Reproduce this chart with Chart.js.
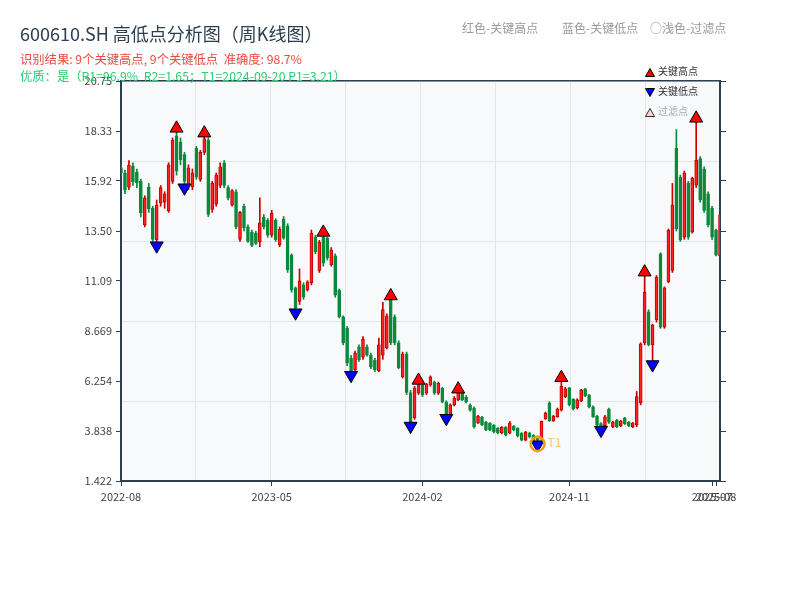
<!DOCTYPE html>
<html><head><meta charset="utf-8">
<script src="https://cdn.jsdelivr.net/npm/chart.js@4/dist/chart.umd.min.js"></script>
<style>
html,body{margin:0;padding:0;background:#fff;}
#wrap{position:relative;width:800px;height:600px;font-family:"Noto Sans CJK SC","Noto Sans",sans-serif;}
canvas{position:absolute;left:0;top:0;}
.t{position:absolute;white-space:nowrap;line-height:1;}
.lg{position:absolute;white-space:nowrap;line-height:1;font-size:10px;}
.lg svg{vertical-align:middle;margin-right:3px;}
</style></head><body>
<div id="wrap">
<canvas id="c" width="800" height="600"></canvas>
<div class="t" style="left:20px;top:24px;font-size:18px;color:#2c3e50">600610.SH 高低点分析图（周K线图）</div>
<div class="t" style="left:20px;top:53px;font-size:12.3px;color:#e74c3c">识别结果: 9个关键高点, 9个关键低点&nbsp;&nbsp;准确度: 98.7%</div>
<div class="t" style="left:20px;top:70px;font-size:12.3px;color:#2ecc71">优质：是（R1=96.9%&nbsp;&nbsp;R2=1.65；T1=2024-09-20 P1=3.21）</div>
<div class="t" style="left:462px;top:22px;font-size:12px;color:#999">红色-关键高点</div>
<div class="t" style="left:562px;top:22px;font-size:12px;color:#999">蓝色-关键低点</div>
<div class="t" style="left:650px;top:22px;font-size:12px;color:#999">○浅色-过滤点</div>
<div class="lg" style="left:645px;top:66px;color:#333"><svg width="10" height="9"><polygon points="5,0.5 9.5,8.5 0.5,8.5" fill="#ff0000" stroke="#000" stroke-width="1"/></svg>关键高点</div>
<div class="lg" style="left:645px;top:86px;color:#333"><svg width="10" height="9"><polygon points="0.5,0.5 9.5,0.5 5,8.5" fill="#0000ff" stroke="#000" stroke-width="1"/></svg>关键低点</div>
<div class="lg" style="left:645px;top:106px;color:#aaa"><svg width="10" height="9"><polygon points="5,0.5 9.5,8.5 0.5,8.5" fill="#ffd6d6" stroke="#000" stroke-width="0.8"/></svg>过滤点</div>
</div>
<script>
// ---- data ----
const openP  = [16.55,16.30,15.62,16.64,16.35,15.90,13.80,15.63,14.60,13.07,14.85,14.90,14.48,15.90,18.10,17.80,17.20,15.68,15.63,17.50,16.00,17.30,17.90,14.55,14.80,15.70,16.80,15.60,14.75,15.40,13.10,14.70,13.70,13.45,13.40,12.97,14.18,14.03,13.30,14.03,12.83,14.08,13.75,12.34,10.75,10.10,10.90,10.65,11.00,13.20,11.60,13.20,13.15,11.86,12.30,10.65,9.35,8.80,7.35,6.80,7.90,7.40,7.90,7.50,7.27,6.75,7.50,7.85,10.20,9.35,8.10,6.45,7.55,5.70,4.47,5.67,6.06,5.67,6.06,6.20,5.67,5.90,5.24,4.60,5.10,5.34,5.67,5.48,5.09,4.95,4.22,4.50,4.27,4.22,4.13,3.98,3.74,4.03,3.74,4.08,3.98,3.74,3.40,3.74,3.64,3.55,3.45,4.42,5.20,4.32,4.52,4.85,5.48,5.92,5.38,4.95,5.29,5.87,5.58,5.00,4.56,4.20,4.08,4.90,4.03,4.37,4.08,4.47,4.27,4.03,4.13,5.20,8.10,9.60,8.00,9.20,12.40,8.86,11.04,11.60,17.50,16.10,13.20,15.80,13.45,15.72,17.00,16.50,15.30,14.60,13.55,12.30];
const highP  = [16.70,16.45,16.90,16.80,16.50,16.00,15.20,15.80,14.70,15.00,15.70,15.40,16.80,18.00,18.28,18.00,17.30,16.70,16.50,17.60,17.40,18.05,18.00,15.90,16.30,16.80,16.90,15.70,15.50,15.50,14.45,14.80,13.80,13.55,13.50,15.10,14.30,14.10,14.50,14.10,13.70,14.20,13.85,12.40,10.80,11.67,11.00,11.10,13.55,13.30,13.05,13.30,13.20,12.70,12.40,10.70,9.40,8.90,7.50,7.70,8.00,8.40,8.00,7.60,7.35,8.33,10.06,9.50,10.26,9.45,8.20,7.65,7.65,5.80,6.00,6.22,6.10,6.15,6.50,6.25,6.20,5.95,5.30,5.15,5.50,5.80,5.72,5.55,5.15,5.00,4.60,4.55,4.30,4.25,4.15,4.00,4.05,4.05,4.30,4.10,4.00,3.76,3.82,3.78,3.66,3.60,4.32,4.75,5.25,4.60,4.95,6.35,5.95,5.95,5.40,5.40,5.85,5.90,5.60,5.05,4.60,4.25,4.60,4.95,4.30,4.40,4.35,4.50,4.30,4.25,5.75,8.10,11.40,9.70,9.00,11.35,12.45,10.80,13.60,15.80,18.40,16.20,16.40,15.90,16.10,18.76,17.10,16.60,15.40,14.70,13.60,14.30];
const lowP   = [16.20,15.30,15.50,15.70,15.60,14.18,13.70,14.40,13.00,12.92,14.70,14.60,14.40,15.80,16.20,16.70,15.75,15.50,15.50,16.00,15.90,17.20,14.20,14.40,14.70,15.60,15.60,15.00,14.70,13.60,13.00,13.50,12.95,12.75,12.85,12.75,13.60,13.20,13.20,13.00,12.75,13.10,11.50,10.55,9.65,9.95,10.20,10.60,10.90,12.40,11.50,11.80,12.10,11.80,10.30,9.30,8.00,7.00,6.60,6.70,7.20,7.30,7.45,6.85,6.70,6.70,7.30,7.80,8.00,8.00,6.85,6.40,5.60,4.12,4.40,5.60,5.50,5.60,6.00,5.60,5.60,5.20,4.50,4.55,5.05,5.30,5.30,5.20,4.80,3.98,4.20,4.10,3.85,3.85,3.75,3.70,3.70,3.60,3.70,3.85,3.55,3.36,3.36,3.50,3.35,3.21,3.40,4.40,4.30,4.30,4.50,4.80,5.45,5.05,4.85,4.90,5.25,5.50,4.95,4.50,4.10,3.92,4.05,4.20,4.00,4.00,4.05,4.15,4.05,4.00,4.05,5.10,8.00,7.95,7.12,9.10,8.80,8.80,11.00,11.50,13.50,13.00,13.10,13.10,13.40,15.60,14.90,14.40,13.70,13.10,12.30,12.20];
const closeP = [16.31,15.50,16.69,15.87,15.82,14.37,15.10,14.57,13.10,14.76,15.60,15.30,16.70,17.90,16.40,16.95,15.90,16.55,16.30,16.10,17.30,17.95,14.30,15.80,16.20,16.60,15.70,15.10,15.45,13.70,14.40,13.65,13.00,12.80,12.90,13.90,13.70,13.30,14.37,13.07,13.60,13.16,11.62,10.65,9.78,11.10,10.30,11.05,13.40,12.50,12.95,11.95,12.20,12.58,10.40,9.35,8.10,7.12,6.70,7.60,7.27,8.28,7.50,6.93,6.80,8.00,9.70,9.40,8.10,8.10,6.90,7.55,5.70,4.20,5.90,6.10,5.58,6.10,6.45,5.67,6.15,5.24,4.55,5.10,5.42,5.72,5.34,5.24,4.85,4.03,4.56,4.13,3.89,3.89,3.80,3.74,4.03,3.64,4.22,3.89,3.60,3.40,3.79,3.55,3.40,3.40,4.30,4.70,4.32,4.56,4.90,6.00,5.87,5.10,4.90,5.34,5.82,5.53,5.00,4.52,4.13,4.05,4.52,4.27,4.27,4.03,4.32,4.18,4.08,4.22,5.50,8.05,10.55,8.00,8.96,11.28,8.86,10.75,13.55,14.76,13.60,13.07,16.30,13.20,16.05,16.93,15.00,14.50,13.80,13.20,12.34,14.28];
const keyHighIdx = [14,21,51,68,75,85,111,132,145];
const keyLowIdx  = [9,16,44,58,73,82,105,121,134];
const t1Idx = 105, t1Price = 3.21, t1Label = 'T1';
const xTickIdx    = [0,38,76,113,149,150];
const xTickLabels = ['2022-08','2023-05','2024-02','2024-11','2025-07','2025-08'];
const yTickValues = [1.422,3.838,6.254,8.669,11.09,13.50,15.92,18.33,20.75];
const yTickLabels = ['1.422','3.838','6.254','8.669','11.09','13.50','15.92','18.33','20.75'];

// ---- styling ----
const UP_FILL='#ff2222', UP_EDGE='#c40000', DN='#0a8a3a', AX='#2c3e50', GRID='#e2e6eb';
const N = openP.length;
const idx = [...Array(N).keys()];
const up = i => closeP[i] >= openP[i];
const yMin = yTickValues[0], yMax = yTickValues[yTickValues.length-1];
const xMax = N - 1;
const xGridVals = [...Array(9).keys()].map(k => k * xMax / 8);
const yGridVals = [...Array(6).keys()].map(k => yMin + k * (yMax - yMin) / 5);

Chart.defaults.font.family = "'Noto Sans CJK SC','Noto Sans',sans-serif";
Chart.defaults.font.size = 11;
Chart.defaults.color = '#333';

const bgPlugin = { id:'bg', beforeDraw(chart){ const {ctx, chartArea:a} = chart; ctx.save(); ctx.fillStyle = '#f7f9fb'; ctx.fillRect(a.left, a.top, a.right-a.left, a.bottom-a.top); ctx.restore(); } };
const t1Plugin = { id:'t1', afterDatasetsDraw(chart){ const {ctx} = chart; const x = chart.scales.x.getPixelForValue(t1Idx) + 10; const y = chart.scales.y.getPixelForValue(t1Price); ctx.save(); ctx.font = "12px 'Noto Sans CJK SC','Noto Sans',sans-serif"; ctx.fillStyle = 'rgba(245,166,35,0.6)'; ctx.textBaseline = 'middle'; ctx.fillText(t1Label, x, y - 2); ctx.restore(); } };

const setTicks = vals => scale => { scale.ticks = vals.map(v => ({value: v})); };

new Chart(document.getElementById('c'), {
  type: 'bar',
  data: { datasets: [
    { type:'bar', order:5, data: idx.map(i => ({x:i, y:[lowP[i], highP[i]]})), backgroundColor: idx.map(i => up(i) ? UP_EDGE : DN), barThickness:1, grouped:false, borderWidth:0 },
    { type:'bar', order:4, data: idx.map(i => ({x:i, y:[Math.min(openP[i],closeP[i]), Math.max(openP[i],closeP[i])]})), backgroundColor: idx.map(i => up(i) ? UP_FILL : DN), borderColor: idx.map(i => up(i) ? UP_EDGE : DN), borderWidth:1, borderSkipped:false, barThickness:3, grouped:false, minBarLength:1 },
    { type:'line', order:2, showLine:false, clip:false, data: keyHighIdx.map(i => ({x:i, y:highP[i]*1.01})), pointStyle:'triangle', pointRadius:7.5, pointBackgroundColor:'#ff0000', pointBorderColor:'#000', pointBorderWidth:1 },
    { type:'line', order:1, showLine:false, clip:false, data: keyLowIdx.map(i => ({x:i, y:lowP[i]*0.99})), pointStyle:'triangle', pointRotation:180, pointRadius:7.5, pointBackgroundColor:'#0000ff', pointBorderColor:'#000', pointBorderWidth:1 },
    { type:'line', order:0, showLine:false, clip:false, data: [{x:t1Idx, y:t1Price}], pointStyle:'circle', pointRadius:7, pointBackgroundColor:'rgba(0,0,0,0)', pointBorderColor:'#f39c12', pointBorderWidth:2.5 }
  ]},
  options: {
    responsive:false, animation:false, events:[],
    layout:{ padding:0 },
    plugins:{ legend:{display:false}, tooltip:{enabled:false} },
    scales: {
      x: { type:'linear', position:'bottom', min:0, max:xMax, offset:false,
           afterBuildTicks: setTicks(xTickIdx),
           ticks:{ autoSkip:false, maxRotation:0, minRotation:0, padding:4, color:'#444', callback:(v,i)=>xTickLabels[i] },
           grid:{ drawOnChartArea:false, offset:false, tickLength:5, tickColor:AX, tickWidth:1 },
           border:{ color:AX, width:2 },
           afterFit: s => { s.height = 119; } },
      xGrid: { type:'linear', position:'bottom', min:0, max:xMax, offset:false,
           afterBuildTicks: setTicks(xGridVals),
           ticks:{ display:false }, grid:{ color:GRID, drawTicks:false, offset:false }, border:{ display:false },
           afterFit: s => { s.height = 0; } },
      xTop: { type:'linear', position:'top', min:0, max:xMax, offset:false,
           ticks:{ display:false }, grid:{ drawOnChartArea:false, drawTicks:false }, border:{ color:AX, width:1.5 },
           afterFit: s => { s.height = 81; } },
      y: { type:'linear', position:'left', min:yMin, max:yMax,
           afterBuildTicks: setTicks(yTickValues),
           ticks:{ padding:4, color:'#444', callback:(v,i)=>yTickLabels[i] },
           grid:{ drawOnChartArea:false, tickLength:5, tickColor:AX },
           border:{ color:AX, width:2 },
           afterFit: s => { s.width = 121; } },
      yGrid: { type:'linear', position:'left', min:yMin, max:yMax,
           afterBuildTicks: setTicks(yGridVals),
           ticks:{ display:false }, grid:{ color:GRID, drawTicks:false }, border:{ display:false },
           afterFit: s => { s.width = 0; } },
      yRight: { type:'linear', position:'right', min:yMin, max:yMax,
           afterBuildTicks: setTicks(yTickValues),
           ticks:{ display:false }, grid:{ drawOnChartArea:false, tickLength:6, tickColor:AX },
           border:{ color:AX, width:2 },
           afterFit: s => { s.width = 80; } }
    }
  },
  plugins:[bgPlugin, t1Plugin]
});
</script>
</body></html>
